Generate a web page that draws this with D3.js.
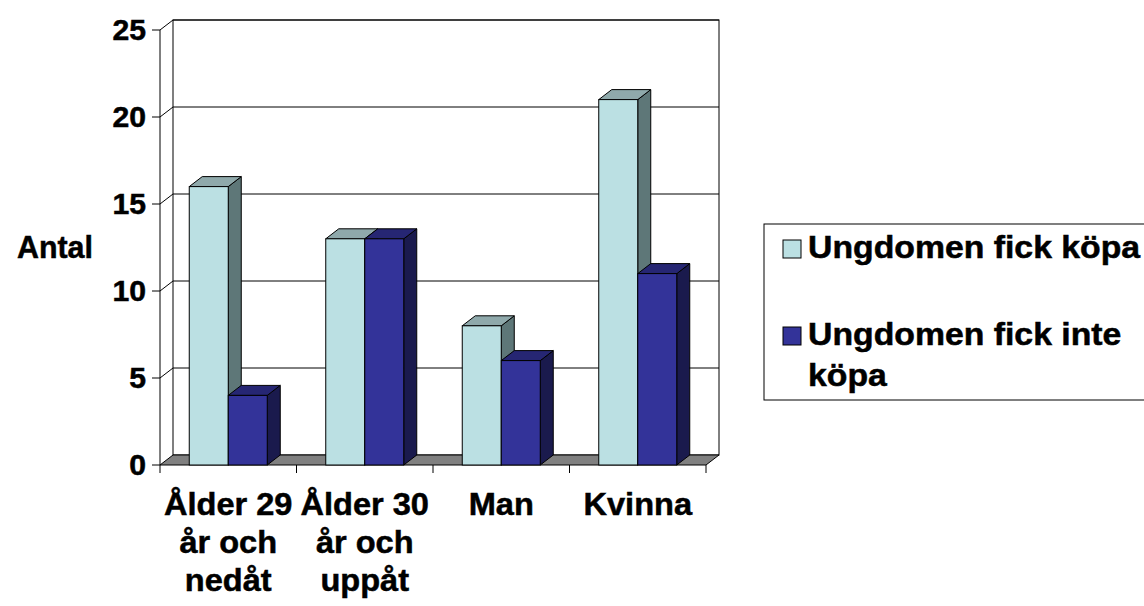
<!DOCTYPE html>
<html>
<head>
    <meta charset="utf-8" />
    <title>Antal</title>
    <script src="https://cdn.jsdelivr.net/npm/d3@7"></script>
    <style>
        body { margin: 0; background: #fff; }
        text { font-family: "Liberation Sans", Arial, sans-serif; font-weight: bold; fill: #000;
               stroke: #000; stroke-width: 0.5px; }
    </style>
</head>
<body>
</body>
<script>
    // data
    var categories = [["Ålder 29", "år och", "nedåt"], ["Ålder 30", "år och", "uppåt"], ["Man"], ["Kvinna"]]
    var fickKopa = [16, 13, 8, 21]
    var fickInteKopa = [4, 13, 6, 11]
    var seriesNames = [["Ungdomen fick köpa"], ["Ungdomen fick inte", "köpa"]]
    var yTicks = [0, 5, 10, 15, 20, 25]
    var yTitle = "Antal"

    var config = {
        WIDTH: 1144,
        HEIGHT: 606,
        depth: { DX: 13, DY: 10 },
        plot: { LEFT: 160, RIGHT: 706, ZERO: 465, TOP: 30 },
        colors: [
            { FRONT: "#BBE0E3", TOP: "#8FA9AB", SIDE: "#5E7778" },
            { FRONT: "#333399", TOP: "#262673", SIDE: "#1A1A4D" }
        ],
        FLOOR: "#808080"
    }

    var svg = d3.select("body").append("svg")
        .attr("width", config.WIDTH)
        .attr("height", config.HEIGHT)

    var dx = config.depth.DX, dy = config.depth.DY
    var x = d3.scaleBand().domain(d3.range(categories.length))
        .range([config.plot.LEFT, config.plot.RIGHT]).padding(0)
    var xInner = d3.scaleBand().domain([0, 1]).range([0, x.bandwidth()])
        .paddingInner(0).paddingOuter(0.75)
    var y = d3.scaleLinear().domain([0, 25]).range([config.plot.ZERO, config.plot.TOP])

    // text in the picture is a bit stretched sideways
    function label(g, txt, px, py, anchor, size, stretch) {
        return g.append("text")
            .attr("transform", "translate(" + px + "," + py + ") scale(" + stretch + ",1)")
            .attr("text-anchor", anchor)
            .style("font-size", size + "px")
            .text(txt)
    }

    function poly(points) {
        return "M" + points.map(p => p.join(",")).join("L") + "Z"
    }

    var x0 = config.plot.LEFT, x1 = config.plot.RIGHT, z = y(0)

    // back wall
    svg.append("rect")
        .attr("x", x0 + dx).attr("y", y(25) - dy)
        .attr("width", x1 - x0).attr("height", z - y(25))
        .attr("fill", "#fff").attr("stroke", "#000")

    // grid lines on back wall + side wall
    var grid = svg.append("g").attr("stroke", "#000").attr("fill", "none")
    yTicks.filter(t => t > 0).forEach(function (t) {
        grid.append("line").attr("x1", x0 + dx).attr("x2", x1 + dx)
            .attr("y1", y(t) - dy).attr("y2", y(t) - dy)
        grid.append("line").attr("x1", x0).attr("x2", x0 + dx)
            .attr("y1", y(t)).attr("y2", y(t) - dy)
    })
    grid.append("line").attr("x1", x0).attr("x2", x0).attr("y1", z).attr("y2", y(25))

    // floor
    svg.append("path")
        .attr("d", poly([[x0, z], [x1, z], [x1 + dx, z - dy], [x0 + dx, z - dy]]))
        .attr("fill", config.FLOOR).attr("stroke", "#000")

    // y ticks and labels
    var yAxis = svg.append("g")
    yTicks.forEach(function (t) {
        yAxis.append("line").attr("x1", x0 - 8).attr("x2", x0)
            .attr("y1", y(t)).attr("y2", y(t)).attr("stroke", "#000")
        label(yAxis, t, x0 - 14, y(t) + 10, "end", 29, 1.04)
    })
    label(svg, yTitle, 17, 258, "start", 31, 0.98)

    // x ticks and labels
    var xAxis = svg.append("g")
    d3.range(categories.length + 1).forEach(function (i) {
        var xx = i < categories.length ? x(i) : x1
        xAxis.append("line").attr("x1", xx).attr("x2", xx)
            .attr("y1", z).attr("y2", z + 8).attr("stroke", "#000")
    })
    categories.forEach(function (lines, i) {
        lines.forEach(function (ln, j) {
            label(xAxis, ln, x(i) + x.bandwidth() / 2, 515 + j * 38, "middle", 31, 1.05)
        })
    })

    // 3d bars
    var series = [fickKopa, fickInteKopa]
    var bars = svg.append("g").attr("stroke", "#000").attr("stroke-width", 1)
    categories.forEach(function (c, i) {
        series.forEach(function (vals, s) {
            var bx = x(i) + xInner(s), w = xInner.bandwidth(), top = y(vals[i])
            var col = config.colors[s]
            bars.append("path").attr("fill", col.SIDE)
                .attr("d", poly([[bx + w, top], [bx + w + dx, top - dy], [bx + w + dx, z - dy], [bx + w, z]]))
            bars.append("path").attr("fill", col.TOP)
                .attr("d", poly([[bx, top], [bx + dx, top - dy], [bx + w + dx, top - dy], [bx + w, top]]))
            bars.append("rect").attr("fill", col.FRONT)
                .attr("x", bx).attr("y", top).attr("width", w).attr("height", z - top)
        })
    })

    // legend
    var legend = svg.append("g")
    legend.append("rect").attr("x", 764).attr("y", 224).attr("width", 400).attr("height", 176)
        .attr("fill", "#fff").attr("stroke", "#000")
    var legendRows = [258, 345]
    seriesNames.forEach(function (lines, s) {
        legend.append("rect").attr("x", 783).attr("y", legendRows[s] - 18)
            .attr("width", 18).attr("height", 18)
            .attr("fill", config.colors[s].FRONT).attr("stroke", "#000")
        lines.forEach(function (ln, j) {
            label(legend, ln, 808, legendRows[s] + j * 41, "start", 31, 1.09)
        })
    })
</script>
</html>
